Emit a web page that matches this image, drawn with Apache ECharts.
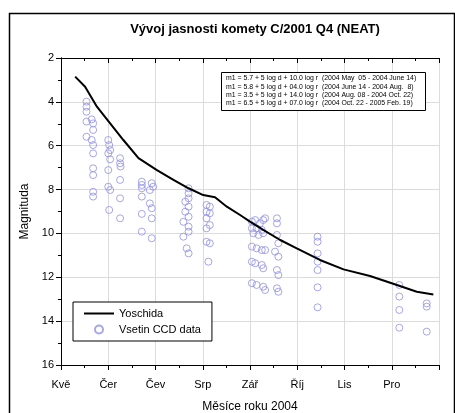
<!DOCTYPE html>
<html>
<head>
<meta charset="utf-8">
<script src="https://cdn.jsdelivr.net/npm/echarts@6/dist/echarts.min.js"></script>
<style>
html,body{margin:0;padding:0;background:#fff;}
#c{width:455px;height:413px;}
</style>
</head>
<body>
<div id="c"></div>
<script>
var titleText = 'Vývoj jasnosti komety C/2001 Q4 (NEAT)';
var monthLabels = ['Kvě', 'Čer', 'Čev', 'Srp', 'Zář', 'Říj', 'Lis', 'Pro', ''];
var yTicks = [2, 4, 6, 8, 10, 12, 14, 16];

// Yoschida curve: x in months since 1 May 2004, magnitude
var yoschidaX = [0.30, 0.51, 0.76, 1.04, 1.32, 1.64, 2.03, 2.38, 2.70, 3.01, 3.26, 3.51, 3.79, 4.00, 4.28, 4.64, 4.99, 5.48, 5.98, 6.54, 7.11, 7.53, 7.88];
var yoschidaMag = [2.85, 3.31, 4.22, 4.98, 5.74, 6.57, 7.11, 7.56, 7.94, 8.25, 8.35, 8.78, 9.16, 9.46, 9.84, 10.30, 10.68, 11.21, 11.64, 11.94, 12.35, 12.66, 12.78];

// Vsetin CCD data (month position, magnitude)
var ccdMay = [[0.54,3.99],[0.54,4.22],[0.54,4.45],[0.54,4.90],[0.65,4.80],[0.68,4.98],[0.68,5.28],[0.54,5.59],[0.65,5.74],[0.68,5.97],[0.68,6.35],[0.68,7.03],[0.68,7.34],[0.68,8.10],[0.68,8.32]];
var ccdJune = [[1.00,5.74],[1.02,5.97],[1.04,6.20],[1.00,6.35],[1.04,6.62],[1.00,7.11],[1.00,7.87],[1.04,8.02],[1.02,8.93],
               [1.25,6.57],[1.25,6.80],[1.26,6.95],[1.25,7.56],[1.25,8.40],[1.25,9.31]];
var ccdJuly = [[1.71,7.64],[1.71,7.79],[1.71,7.94],[1.92,7.71],[1.95,7.87],[1.88,8.02],[1.71,8.32],[1.88,8.63],[1.92,8.85],[1.71,9.11],[1.92,9.31],[1.71,9.92],[1.92,10.22]];
var ccdAug = [[2.70,7.94],[2.70,8.17],[2.70,8.40],[2.63,8.55],[2.70,8.78],[2.63,9.01],[2.70,9.24],[2.59,9.47],[2.70,9.69],[2.70,9.92],[2.59,10.15],[2.66,10.68],[2.70,10.91],
              [3.08,8.70],[3.15,8.78],[3.08,9.01],[3.15,9.08],[3.08,9.31],[3.15,9.62],[3.08,9.77],[3.08,10.38],[3.15,10.45],[3.12,11.29]];
var ccdSep = [[4.04,9.46],[4.11,9.39],[4.21,9.54],[4.28,9.39],[4.04,9.77],[4.14,9.77],[4.25,9.84],[4.32,9.31],[4.07,9.99],[4.18,10.07],[4.28,9.99],[4.04,10.60],[4.14,10.68],[4.25,10.76],[4.32,10.76],[4.04,11.29],[4.11,11.36],[4.25,11.44],[4.28,11.59],[4.04,12.27],[4.14,12.35],[4.28,12.43],[4.32,12.58],
              [4.57,9.31],[4.57,9.54],[4.57,10.07],[4.60,10.45],[4.53,10.83],[4.60,11.06],[4.57,11.67],[4.60,11.90],[4.57,12.50],[4.60,12.66]];
var ccdOct = [[5.43,10.15],[5.43,10.38],[5.43,10.91],[5.43,11.29],[5.43,11.67],[5.43,12.46],[5.43,13.37]];
var ccdDec = [[7.16,12.35],[7.16,12.88],[7.16,13.49],[7.16,14.30],[7.74,13.19],[7.74,13.34],[7.74,14.48]];

var formulaLines = [
  'm1 = 5.7 + 5 log d + 10.0 log r  (2004 May  05 - 2004 June 14)',
  'm1 = 5.8 + 5 log d + 04.0 log r  (2004 June 14 - 2004 Aug.  8)',
  'm1 = 3.5 + 5 log d + 14.0 log r  (2004 Aug. 08 - 2004 Oct. 22)',
  'm1 = 6.5 + 5 log d + 07.0 log r  (2004 Oct. 22 - 2005 Feb. 19)'
];

var ccdAll = [].concat(ccdMay, ccdJune, ccdJuly, ccdAug, ccdSep, ccdOct, ccdDec);
var yoschida = yoschidaX.map(function (x, i) { return [x, yoschidaMag[i]]; });

var FONT = 'Liberation Sans, Arial, sans-serif';
var chart = echarts.init(document.getElementById('c'), null, {renderer: 'canvas'});

var formulaGraphics = [{
  type: 'rect', left: 221, top: 72,
  shape: {width: 204, height: 38},
  style: {fill: '#fff', stroke: '#000', lineWidth: 1},
  z: 100
}];
formulaLines.forEach(function (t, i) {
  formulaGraphics.push({
    type: 'text', left: 226, top: 75 + i * 8.2,
    style: {text: t, font: '6.9px ' + FONT, fill: '#000'},
    z: 101
  });
});

chart.setOption({
  animation: false,
  backgroundColor: '#fff',
  title: {
    text: titleText, left: 250, top: 18, textAlign: 'center',
    textStyle: {fontFamily: FONT, fontSize: 13, fontWeight: 'bold', color: '#000'}
  },
  grid: {left: 61, right: 16, top: 58, bottom: 48, containLabel: false, outerBoundsMode: 'none'},
  legend: {
    show: true,
    left: 73, top: 302, orient: 'vertical',
    borderColor: '#000', borderWidth: 1, padding: [6, 11, 6, 10],
    itemGap: 5, itemWidth: 30, itemHeight: 8,
    textStyle: {fontFamily: FONT, fontSize: 11, color: '#000'},
    backgroundColor: '#fff',
    z: 50,
    data: [{name: 'Yoschida', itemStyle: {opacity: 0}}, 'Vsetin CCD data']
  },
  xAxis: [
    {
      type: 'value', min: 0, max: 8, interval: 1, position: 'bottom',
      axisLine: {show: true, lineStyle: {color: '#000', width: 1}},
      name: 'Měsíce roku 2004', nameLocation: 'middle', nameGap: 36,
      nameTextStyle: {fontFamily: FONT, fontSize: 12, color: '#000'},
      axisTick: {show: true, inside: false, length: 5, lineStyle: {color: '#000'}},
      minorTick: {show: true, splitNumber: 2, length: 3, lineStyle: {color: '#000'}},
      axisLabel: {margin: 14, fontFamily: FONT, fontSize: 11, color: '#000',
        formatter: function (v) { return monthLabels[Math.round(v)] || ''; }},
      splitLine: {show: true, lineStyle: {color: '#dcdcdc', width: 1}}
    },
    {
      type: 'value', min: 0, max: 8, interval: 1, position: 'top',
      axisLine: {show: true, lineStyle: {color: '#000', width: 1}},
      axisTick: {show: true, inside: true, length: 5, lineStyle: {color: '#000'}},
      minorTick: {show: true, splitNumber: 2, length: 3, lineStyle: {color: '#000'}},
      axisLabel: {show: false},
      splitLine: {show: false}
    }
  ],
  yAxis: [
    {
      type: 'value', min: 2, max: 16, interval: 2, inverse: true, position: 'left',
      name: 'Magnituda', nameLocation: 'middle', nameGap: 30, nameRotate: 90,
      nameTextStyle: {fontFamily: FONT, fontSize: 12, color: '#000'},
      axisLine: {show: true, lineStyle: {color: '#000'}},
      axisTick: {show: true, inside: false, length: 5, lineStyle: {color: '#000'}},
      minorTick: {show: true, splitNumber: 2, length: 3, lineStyle: {color: '#000'}},
      axisLabel: {margin: 7, fontFamily: FONT, fontSize: 11, color: '#000',
        formatter: function (v) { return yTicks.indexOf(v) >= 0 ? String(v) : ''; }},
      splitLine: {show: true, lineStyle: {color: '#dcdcdc', width: 1}}
    },
    {
      type: 'value', min: 2, max: 16, interval: 2, inverse: true, position: 'right',
      axisLine: {show: true, lineStyle: {color: '#000'}},
      axisTick: {show: true, inside: true, length: 5, lineStyle: {color: '#000'}},
      minorTick: {show: true, splitNumber: 2, length: 3, lineStyle: {color: '#000'}},
      axisLabel: {show: false},
      splitLine: {show: false}
    }
  ],
  series: [
    {
      name: 'Yoschida', type: 'line', data: yoschida, xAxisIndex: 0, yAxisIndex: 0,
      symbol: 'none', smooth: false,
      lineStyle: {color: '#000', width: 2}, itemStyle: {color: '#000'}, z: 5
    },
    {
      name: 'Vsetin CCD data', type: 'scatter', data: ccdAll, xAxisIndex: 0, yAxisIndex: 0,
      symbol: 'circle', symbolSize: 7,
      itemStyle: {color: 'rgba(255,255,255,0)', borderColor: '#9090e6', borderWidth: 1}, z: 3
    }
  ],
  graphic: [{
    type: 'rect', left: 7, top: 11,
    shape: {width: 445, height: 420},
    style: {fill: 'none', stroke: '#000', lineWidth: 1.5},
    z: 0, silent: true
  }].concat(formulaGraphics)
});
</script>
</body>
</html>
